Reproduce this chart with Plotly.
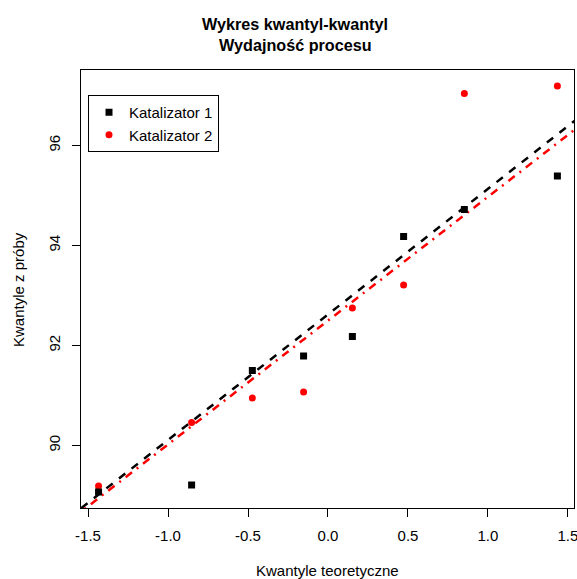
import numpy as np
import plotly.graph_objects as go
from statistics import NormalDist

# Data: process yield for two catalysts
katalizator_1 = [91.50, 94.18, 92.18, 95.39, 91.79, 89.07, 94.72, 89.21]
katalizator_2 = [89.19, 90.95, 90.46, 93.21, 97.19, 97.04, 91.07, 92.75]
series_names = ["Katalizator 1", "Katalizator 2"]

x_ticks = [-1.5, -1.0, -0.5, 0.0, 0.5, 1.0, 1.5]
y_ticks = [90, 92, 94, 96]

nd = NormalDist()


def theo_quantiles(n):
    a = 3 / 8 if n <= 10 else 0.5
    return [nd.inv_cdf((i - a) / (n + 1 - 2 * a)) for i in range(1, n + 1)]


def qqline(y):
    q25, q75 = np.quantile(y, [0.25, 0.75])
    x25, x75 = nd.inv_cdf(0.25), nd.inv_cdf(0.75)
    slope = (q75 - q25) / (x75 - x25)
    inter = q25 - slope * x25
    return slope, inter


x_range = [-1.544, 1.538]
y_range = [88.75, 97.51]
x_line = np.array([-1.7, 1.7])

fig = go.Figure()

specs = [
    (katalizator_2, "red", "circle", "8px,6px,2px,6px", series_names[1], 2),
    (katalizator_1, "black", "square", "8px,8px", series_names[0], 1),
]

for vals, col, sym, dash, name, rank in specs:
    s, b = qqline(vals)
    fig.add_trace(go.Scatter(x=x_line, y=s * x_line + b, mode="lines",
                             line=dict(color=col, width=2.5, dash=dash),
                             showlegend=False, hoverinfo="skip"))

for vals, col, sym, dash, name, rank in specs:
    ys = sorted(vals)
    xs = theo_quantiles(len(ys))
    fig.add_trace(go.Scatter(x=xs, y=ys, mode="markers", name=name,
                             marker=dict(color=col, symbol=sym, size=7,
                                         line=dict(width=0)),
                             legendrank=rank))

font_fam = "Liberation Sans, Arial, sans-serif"
W, H = 577, 579
L, R, T, B = 81, 3, 70, 71
plot_h = H - T - B
plot_w = W - L - R

fig.update_layout(
    width=W, height=H,
    margin=dict(l=L, r=R, t=T, b=B, autoexpand=False),
    paper_bgcolor="white", plot_bgcolor="white",
    font=dict(family=font_fam, size=15, color="black"),
    showlegend=True,
    legend=dict(x=(88 - L) / plot_w, y=(H - B - 95) / plot_h,
                xanchor="left", yanchor="top",
                bgcolor="white", bordercolor="black", borderwidth=1,
                font=dict(size=15), itemwidth=30, tracegroupgap=0),
    xaxis=dict(range=x_range, tickvals=x_ticks,
               ticktext=[f"{v:.1f}" for v in x_ticks],
               showgrid=False, zeroline=False, showline=True, mirror=True,
               linecolor="black", linewidth=1, ticks="outside", ticklen=8,
               tickcolor="black", tickwidth=1, ticklabelstandoff=6,
               tickfont=dict(size=15), automargin=False,
               ticklabeloverflow="allow"),
    yaxis=dict(range=y_range, tickvals=y_ticks,
               ticktext=[str(v) for v in y_ticks], tickangle=-90,
               showgrid=False, zeroline=False, showline=True, mirror=True,
               linecolor="black", linewidth=1, ticks="outside", ticklen=8,
               tickcolor="black", tickwidth=1, ticklabelstandoff=6,
               tickfont=dict(size=15), automargin=False,
               ticklabeloverflow="allow"),
    annotations=[
        dict(text="<b>Wykres kwantyl-kwantyl</b>", x=(295 - L) / plot_w,
             y=(H - B - 24) / plot_h, xref="paper", yref="paper",
             showarrow=False, yanchor="middle", font=dict(size=16.2)),
        dict(text="<b>Wydajność procesu</b>", x=(295 - L) / plot_w,
             y=(H - B - 45) / plot_h, xref="paper", yref="paper",
             showarrow=False, yanchor="middle", font=dict(size=16.2)),
        dict(text="Kwantyle teoretyczne", x=0.5, y=-(570 - (H - B)) / plot_h,
             xref="paper", yref="paper", showarrow=False, yanchor="middle",
             font=dict(size=15)),
        dict(text="Kwantyle z próby", x=-(L - 18) / plot_w, y=0.5,
             xref="paper", yref="paper", showarrow=False, textangle=-90,
             xanchor="center", yanchor="middle", font=dict(size=15)),
    ],
)

fig.write_html("out.html", config={"displayModeBar": False},
               post_script="document.body.style.margin='0';")
